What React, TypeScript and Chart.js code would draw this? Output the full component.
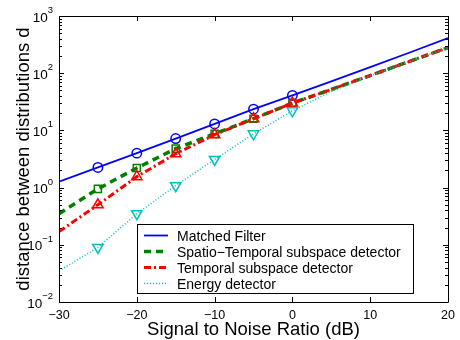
import React, { useEffect, useRef } from 'react';
import { Chart, registerables } from 'chart.js';

Chart.register(...registerables);

const snrDb = [-30, -25, -20, -15, -10, -5, 0, 5, 10, 15, 20];
const matchedFilter = [1.27, 2.25, 4.0, 7.2, 13, 23.5, 41, 72, 128, 228, 410];
const spatioTemporal = [0.35, 0.95, 2.2, 4.8, 8.7, 16, 30, 52, 91, 160, 280];
const temporal = [0.17, 0.5, 1.55, 3.9, 8.4, 16, 30, 52, 91, 160, 280];
const energy = [0.035, 0.09, 0.35, 1.08, 3.1, 8.7, 22, 48, 90, 160, 280];
const markerShown = [0, 1, 1, 1, 1, 1, 1, 0, 0, 0, 0];
const xTicks = [-30, -20, -10, 0, 10, 20];
const yDecades = [-2, -1, 0, 1, 2, 3];
const seriesNames = [
  'Matched Filter',
  'Spatio\u2212Temporal subspace detector',
  'Temporal subspace detector',
  'Energy detector',
];
const xTitle = 'Signal to Noise Ratio (dB)';
const yTitle = 'distance between distributions d';

const FONT = "'Liberation Sans', Arial, Helvetica, sans-serif";

function fmtNum(n: number): string {
  return n < 0 ? '\u2212' + Math.abs(n) : String(n);
}

const frameAndLabels = {
  id: 'frameAndLabels',
  afterDraw(chart: any) {
    const ctx: CanvasRenderingContext2D = chart.ctx;
    const { left, right, top, bottom } = chart.chartArea;
    const xs = chart.scales.x;
    const ys = chart.scales.y;
    ctx.save();
    ctx.strokeStyle = '#000';
    ctx.lineWidth = 1;
    ctx.beginPath();
    ctx.rect(Math.round(left) + 0.5, Math.round(top) + 0.5, Math.round(right - left), Math.round(bottom - top));
    ctx.stroke();
    ctx.beginPath();
    xTicks.forEach((t) => {
      const px = Math.round(xs.getPixelForValue(t)) + 0.5;
      ctx.moveTo(px, bottom);
      ctx.lineTo(px, bottom - 5);
      ctx.moveTo(px, top);
      ctx.lineTo(px, top + 5);
    });
    yDecades.forEach((e) => {
      const py = Math.round(ys.getPixelForValue(Math.pow(10, e))) + 0.5;
      ctx.moveTo(left, py);
      ctx.lineTo(left + 5, py);
      ctx.moveTo(right, py);
      ctx.lineTo(right - 5, py);
      if (e < 3) {
        for (let m = 2; m <= 9; m++) {
          const pm = Math.round(ys.getPixelForValue(m * Math.pow(10, e))) + 0.5;
          ctx.moveTo(left, pm);
          ctx.lineTo(left + 3, pm);
          ctx.moveTo(right, pm);
          ctx.lineTo(right - 3, pm);
        }
      }
    });
    ctx.stroke();

    ctx.fillStyle = '#000';
    ctx.font = `12.5px ${FONT}`;
    ctx.textAlign = 'center';
    ctx.textBaseline = 'alphabetic';
    xTicks.forEach((t) => {
      ctx.fillText(fmtNum(t), xs.getPixelForValue(t), bottom + 17);
    });
    yDecades.forEach((e) => {
      const py = ys.getPixelForValue(Math.pow(10, e));
      ctx.font = `9.5px ${FONT}`;
      const expStr = fmtNum(e);
      const ew = ctx.measureText(expStr).width;
      ctx.font = `13.5px ${FONT}`;
      const bw = ctx.measureText('10').width;
      const rightEdge = left - 6;
      ctx.textAlign = 'left';
      ctx.textBaseline = 'alphabetic';
      ctx.fillText('10', rightEdge - ew - bw, py + 5.5);
      ctx.font = `9.5px ${FONT}`;
      ctx.fillText(expStr, rightEdge - ew, py - 3);
    });
    ctx.font = `18.5px ${FONT}`;
    ctx.textAlign = 'center';
    ctx.textBaseline = 'alphabetic';
    ctx.fillText(xTitle, (left + right) / 2, bottom + 33);
    ctx.save();
    ctx.translate(29, (top + bottom) / 2);
    ctx.rotate(-Math.PI / 2);
    ctx.fillText(yTitle, 0, 0);
    ctx.restore();

    const bx = 137, by = 224, bw2 = 276, bh = 69;
    ctx.fillStyle = '#fff';
    ctx.fillRect(bx, by, bw2, bh);
    ctx.strokeStyle = '#000';
    ctx.lineWidth = 1;
    ctx.strokeRect(bx + 0.5, by + 0.5, bw2, bh);
    chart.data.datasets.forEach((ds: any, i: number) => {
      const ly = by + 11.5 + i * 16;
      ctx.save();
      ctx.strokeStyle = ds.borderColor;
      ctx.lineWidth = ds.borderWidth;
      ctx.setLineDash(ds.borderDash || []);
      ctx.beginPath();
      ctx.moveTo(bx + 7, ly);
      ctx.lineTo(bx + 31, ly);
      ctx.stroke();
      ctx.restore();
      ctx.fillStyle = '#000';
      ctx.font = `14px ${FONT}`;
      ctx.textAlign = 'left';
      ctx.textBaseline = 'alphabetic';
      ctx.fillText(seriesNames[i], bx + 40, ly + 5);
    });
    ctx.restore();
  },
};

export default function App() {
  const ref = useRef<HTMLCanvasElement | null>(null);
  useEffect(() => {
    if (!ref.current) return;
    const mk = (vals: number[]) => snrDb.map((x, i) => ({ x, y: vals[i] }));
    const radii = (r: number) => markerShown.map((m) => (m ? r : 0));
    const chart = new Chart(ref.current, {
      type: 'line',
      data: {
        datasets: [
          {
            label: seriesNames[0],
            data: mk(matchedFilter),
            borderColor: '#0000ff',
            borderWidth: 1.8,
            pointStyle: 'circle',
            pointRadius: radii(4.7),
            pointBorderWidth: 1.5,
            pointBorderColor: '#0000ff',
            pointBackgroundColor: 'rgba(0,0,0,0)',
            order: 4,
          },
          {
            label: seriesNames[1],
            data: mk(spatioTemporal),
            borderColor: '#008000',
            borderWidth: 3.5,
            borderDash: [7, 5],
            pointStyle: 'rect',
            pointRadius: radii(5),
            pointBorderWidth: 1.5,
            pointBorderColor: '#008000',
            pointBackgroundColor: 'rgba(0,0,0,0)',
            order: 3,
          },
          {
            label: seriesNames[2],
            data: mk(temporal),
            borderColor: '#ff0000',
            borderWidth: 3,
            borderDash: [7, 3, 2, 3],
            pointStyle: 'triangle',
            pointRadius: radii(6),
            pointBorderWidth: 1.5,
            pointBorderColor: '#ff0000',
            pointBackgroundColor: 'rgba(0,0,0,0)',
            order: 2,
          },
          {
            label: seriesNames[3],
            data: mk(energy),
            borderColor: '#00bfbf',
            borderWidth: 1.5,
            borderDash: [1, 2],
            pointStyle: 'triangle',
            pointRotation: 180,
            pointRadius: radii(6),
            pointBorderWidth: 1.5,
            pointBorderColor: '#00bfbf',
            pointBackgroundColor: 'rgba(0,0,0,0)',
            order: 1,
          },
        ],
      },
      options: {
        responsive: false,
        animation: false,
        devicePixelRatio: 1,
        layout: { padding: { top: 16, right: 12, left: 0, bottom: 0 } },
        plugins: { legend: { display: false }, tooltip: { enabled: false } },
        elements: { line: { tension: 0 } },
        scales: {
          x: {
            type: 'linear',
            min: -30,
            max: 20,
            ticks: { display: false },
            grid: { display: false },
            border: { display: false },
            afterFit: (s: any) => {
              s.height = 38;
            },
          },
          y: {
            type: 'logarithmic',
            min: 0.01,
            max: 1000,
            ticks: { display: false },
            grid: { display: false },
            border: { display: false },
            afterFit: (s: any) => {
              s.width = 59;
            },
          },
        },
      },
      plugins: [frameAndLabels],
    } as any);
    return () => chart.destroy();
  }, []);
  return (
    <div style={{ position: 'fixed', left: 0, top: 0, width: 460, height: 340, background: '#fff' }}>
      <canvas ref={ref} width={460} height={340} />
    </div>
  );
}
